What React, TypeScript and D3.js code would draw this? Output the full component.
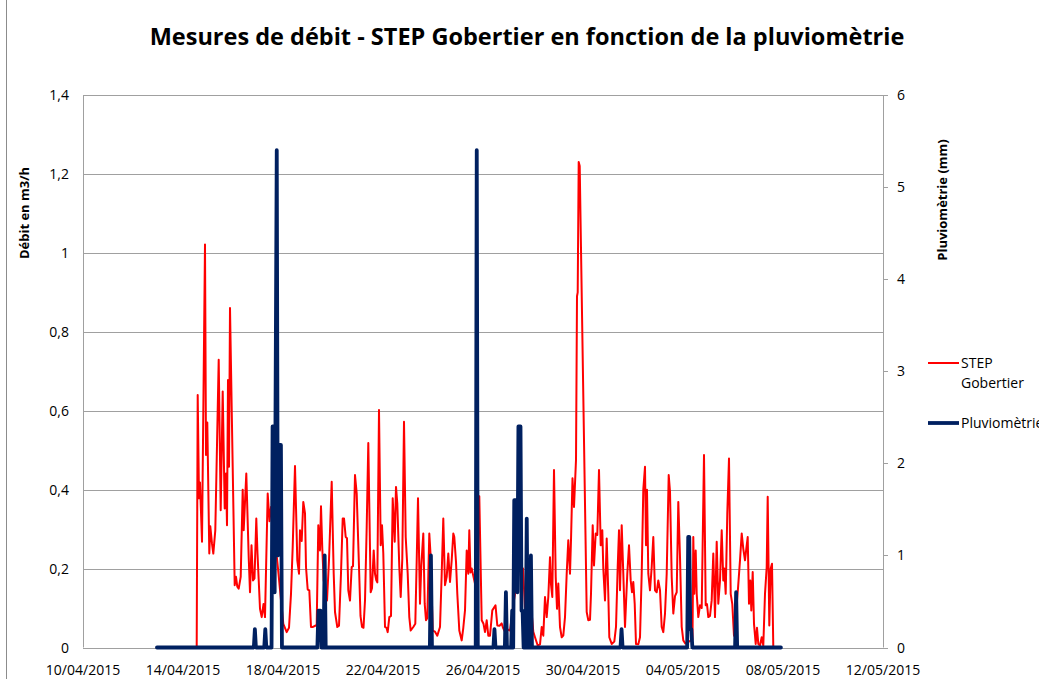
import React from "react";
import * as d3 from "d3";

// ---- DATA ----
const START = Date.UTC(2015, 3, 10); // 10/04/2015 00:00

// Débit STEP Gobertier (m3/h): [days since 10/04/2015, value]
const flowPoints: [number, number][] = [
  [4.548,0],[4.588,0.64],[4.64,0.378],[4.68,0.418],[4.76,0.268],[4.88,1.021],[4.92,0.488],[4.972,0.57],[5.052,0.238],[5.092,0.307],[5.16,0.263],[5.212,0.238],[5.292,0.297],[5.428,0.729],[5.508,0.348],[5.588,0.649],[5.668,0.352],[5.72,0.441],[5.76,0.31],[5.8,0.678],[5.84,0.458],[5.88,0.86],[6.068,0.158],[6.12,0.179],[6.172,0.154],[6.228,0.149],[6.308,0.179],[6.388,0.4],[6.428,0.297],[6.532,0.441],[6.628,0.229],[6.68,0.14],[6.74,0.259],[6.8,0.17],[6.86,0.175],[6.932,0.327],[6.98,0.238],[7.08,0.098],[7.148,0.077],[7.22,0.11],[7.28,0.077],[7.388,0.39],[7.46,0.32],[7.52,0.356],[7.64,0.3],[7.8,0.2],[7.92,0.12],[8.012,0.06],[8.148,0.039],[8.24,0.05],[8.32,0.136],[8.388,0.255],[8.48,0.46],[8.572,0.221],[8.64,0.187],[8.68,0.297],[8.748,0.27],[8.812,0.369],[8.88,0.34],[8.92,0.204],[8.988,0.147],[9.052,0.145],[9.12,0.052],[9.2,0.052],[9.348,0.057],[9.412,0.31],[9.48,0.246],[9.52,0.358],[9.572,0.25],[9.628,0.17],[9.76,0.119],[9.84,0.221],[9.948,0.42],[10.028,0.187],[10.08,0.09],[10.172,0.052],[10.24,0.055],[10.32,0.188],[10.388,0.327],[10.44,0.327],[10.508,0.28],[10.56,0.277],[10.612,0.145],[10.68,0.119],[10.748,0.204],[10.8,0.206],[10.88,0.437],[10.948,0.39],[11.04,0.204],[11.1,0.08],[11.16,0.052],[11.22,0.05],[11.28,0.119],[11.348,0.306],[11.412,0.518],[11.508,0.14],[11.56,0.15],[11.628,0.246],[11.68,0.187],[11.732,0.17],[11.772,0.165],[11.84,0.602],[11.908,0.259],[11.96,0.31],[12.012,0.238],[12.08,0.052],[12.14,0.05],[12.188,0.039],[12.252,0.077],[12.32,0.08],[12.388,0.378],[12.468,0.268],[12.52,0.407],[12.572,0.365],[12.652,0.204],[12.708,0.128],[12.772,0.225],[12.84,0.572],[12.908,0.28],[12.988,0.187],[13.052,0.077],[13.108,0.043],[13.212,0.052],[13.292,0.06],[13.348,0.221],[13.4,0.378],[13.48,0.111],[13.532,0.208],[13.612,0.289],[13.668,0.111],[13.72,0.069],[13.772,0.075],[13.852,0.289],[13.908,0.229],[13.988,0.043],[14.08,0.04],[14.172,0.03],[14.28,0.052],[14.348,0.187],[14.412,0.327],[14.48,0.158],[14.548,0.179],[14.612,0.238],[14.68,0.166],[14.748,0.221],[14.812,0.289],[14.852,0.28],[14.92,0.217],[14.972,0.136],[15.052,0.043],[15.148,0.018],[15.212,0.05],[15.28,0.094],[15.348,0.246],[15.412,0.187],[15.452,0.297],[15.5,0.19],[15.548,0.2],[15.62,0.179],[15.72,0.15],[15.852,0.383],[15.948,0.069],[16.02,0.06],[16.08,0.039],[16.148,0.069],[16.212,0.03],[16.28,0.03],[16.372,0.094],[16.5,0.107],[16.572,0.056],[16.66,0.055],[16.748,0.061],[16.8,0.05],[16.88,0.04],[17.0,0.045],[17.08,0.043],[17.148,0.077],[17.24,0.12],[17.372,0.17],[17.412,0.183],[17.48,0.28],[17.54,0.18],[17.6,0.2],[17.68,0.1],[17.76,0.08],[17.84,0.04],[17.948,0.086],[18.012,0.04],[18.08,0.026],[18.188,0.005],[18.28,0.008],[18.348,0.052],[18.412,0.03],[18.48,0.128],[18.548,0.077],[18.612,0.128],[18.68,0.229],[18.72,0.16],[18.772,0.128],[18.84,0.45],[18.908,0.179],[18.96,0.098],[19.012,0.162],[19.08,0.052],[19.148,0.026],[19.212,0.03],[19.28,0.077],[19.348,0.187],[19.412,0.272],[19.48,0.187],[19.52,0.272],[19.58,0.429],[19.64,0.356],[19.72,0.475],[19.76,0.89],[19.788,0.9],[19.828,1.23],[19.868,1.22],[20.148,0.09],[20.212,0.069],[20.28,0.07],[20.32,0.136],[20.388,0.31],[20.44,0.208],[20.508,0.289],[20.572,0.285],[20.64,0.45],[20.708,0.259],[20.772,0.297],[20.812,0.2],[20.88,0.119],[20.948,0.276],[21.012,0.136],[21.052,0.026],[21.148,0.009],[21.252,0.015],[21.32,0.052],[21.388,0.204],[21.44,0.297],[21.48,0.145],[21.548,0.31],[21.612,0.187],[21.68,0.052],[21.72,0.111],[21.772,0.187],[21.84,0.259],[21.908,0.17],[21.96,0.14],[22.012,0.166],[22.068,0.111],[22.12,0.009],[22.212,0.008],[22.28,0.026],[22.348,0.187],[22.412,0.4],[22.48,0.458],[22.52,0.259],[22.56,0.4],[22.612,0.187],[22.68,0.145],[22.748,0.204],[22.812,0.28],[22.88,0.145],[22.948,0.14],[23.012,0.17],[23.08,0.145],[23.148,0.052],[23.212,0.039],[23.28,0.086],[23.348,0.187],[23.428,0.437],[23.48,0.395],[23.548,0.179],[23.612,0.086],[23.68,0.13],[23.748,0.14],[23.812,0.369],[23.88,0.229],[23.948,0.052],[24.012,0.018],[24.092,0.01],[24.38,0.02],[24.412,0.28],[24.452,0.136],[24.508,0.246],[24.548,0.136],[24.612,0.077],[24.68,0.107],[24.748,0.1],[24.84,0.488],[24.908,0.107],[24.96,0.11],[25.012,0.077],[25.08,0.08],[25.148,0.12],[25.212,0.238],[25.28,0.077],[25.348,0.268],[25.412,0.111],[25.48,0.17],[25.548,0.297],[25.612,0.17],[25.652,0.2],[25.708,0.136],[25.772,0.34],[25.84,0.479],[25.908,0.136],[25.972,0.11],[26.04,0.03],[26.2,0.15],[26.28,0.221],[26.348,0.289],[26.412,0.25],[26.48,0.221],[26.532,0.25],[26.588,0.28],[26.64,0.111],[26.692,0.17],[26.732,0.094],[26.788,0.191],[26.84,0.06],[26.908,0.009],[26.96,0.05],[27.012,0.009],[27.08,0.005],[27.148,0.026],[27.212,0.005],[27.28,0.136],[27.348,0.204],[27.388,0.382],[27.452,0.056],[27.508,0.2],[27.56,0.212],[27.612,0]
];

// Pluviométrie (mm): [hours since 10/04/2015 00:00, value]
const rainPoints: [number, number][] = [
  [71,0],
  [164,0],[165,0.2],[166,0],
  [174,0],[175,0.2],[176,0],
  [181,0],[182,2.4],[183,2.4],[184,0.6],[186,5.4],[187,1.0],[188,2.2],[190,2.2],[191,0],
  [225,0],[226,0.4],[228,0.4],[229,0],
  [231,0],[232,1.0],[233,0],
  [333,0],[334,1.0],[335,0],
  [377,0],[378,5.4],[379,0],
  [394,0],[395,0.2],[396,0],
  [405,0],[406,0.6],[407,0],
  [411,0],[412,0.4],[413,0],[414,1.6],[416,1.6],[417,0.6],[418,2.4],[420,2.4],[421,0.4],[422,0.4],[423,0],
  [425,0],[426,1.4],[427,0],[429,0],[430,1.0],[431,0],
  [516,0],[517,0.2],[518,0],
  [580,0],[581,1.2],[582,1.2],[583,0.2],[584,0.2],[585,0],
  [626,0],[627,0.6],[628,0],
  [670,0],
];

const xTickLabels = ["10/04/2015","14/04/2015","18/04/2015","22/04/2015","26/04/2015","30/04/2015","04/05/2015","08/05/2015","12/05/2015"];
const leftTicks = [0, 0.2, 0.4, 0.6, 0.8, 1, 1.2, 1.4];
const rightTicks = [0, 1, 2, 3, 4, 5, 6];

const title = "Mesures de débit - STEP Gobertier en fonction de la pluviomètrie";
const leftTitle = "Débit en m3/h";
const rightTitle = "Pluviomètrie (mm)";
const seriesNames = ["STEP", "Gobertier"];
const rainName = "Pluviomètrie";

// ---- CHART ----
const W = 1039, H = 679;
const M = { left: 83, right: 883, top: 95, bottom: 647.5 };
const FONT = "'Open Sans', 'Liberation Sans', sans-serif";
const RED = "#ff0000";
const BLUE = "#002060";
const GRID = "#a0a0a0";

const parse = d3.utcParse("%d/%m/%Y");
const xTicks = xTickLabels.map((s) => parse(s) as Date);

const x = d3.scaleUtc().domain([xTicks[0], xTicks[xTicks.length - 1]]).range([M.left, M.right]);
const yL = d3.scaleLinear().domain([0, 1.4]).range([M.bottom, M.top]);
const yR = d3.scaleLinear().domain([0, 6]).range([M.bottom, M.top]);

const fr = d3.formatLocale({ decimal: ",", thousands: " ", grouping: [3], currency: ["", "€"] });
const fmtL = fr.format("~g");

export default function App() {
  const flowLine = d3
    .line<[number, number]>()
    .x((d) => x(new Date(START + d[0] * 86400000)))
    .y((d) => yL(d[1]));
  const rainLine = d3
    .line<[number, number]>()
    .x((d) => x(new Date(START + d[0] * 3600000)))
    .y((d) => yR(d[1]));

  return (
    <div style={{ position: "fixed", left: 0, top: 0, width: W, height: H, background: "#fff" }}>
      <svg width={W} height={H} style={{ display: "block", fontFamily: FONT }}>
        <rect x={0} y={0} width={W} height={H} fill="#fff" />
        <line x1={6.5} x2={6.5} y1={0} y2={H} stroke="#8c8c8c" strokeWidth={1} />

        <text x={527} y={45} textAnchor="middle" fontSize={23.5} fontWeight="bold" fill="#000">
          {title}
        </text>

        {leftTicks.map((t) => (
          <line key={"g" + t} x1={M.left} x2={M.right} y1={Math.round(yL(t)) + 0.5} y2={Math.round(yL(t)) + 0.5} stroke={GRID} strokeWidth={1} />
        ))}
        <line x1={M.left + 0.5} x2={M.left + 0.5} y1={M.top} y2={M.bottom} stroke={GRID} />
        <line x1={M.right + 0.5} x2={M.right + 0.5} y1={M.top} y2={M.bottom} stroke={GRID} />
        {rightTicks.map((t) => (
          <line key={"rt" + t} x1={M.right} x2={M.right + 5} y1={Math.round(yR(t)) + 0.5} y2={Math.round(yR(t)) + 0.5} stroke={GRID} />
        ))}

        {leftTicks.map((t) => (
          <text key={"lt" + t} x={69} y={yL(t) + 5} textAnchor="end" fontSize={14} fill="#000">
            {fmtL(t)}
          </text>
        ))}
        {rightTicks.map((t) => (
          <text key={"rl" + t} x={897} y={yR(t) + 5} textAnchor="start" fontSize={14} fill="#000">
            {String(t)}
          </text>
        ))}
        {xTicks.map((d, i) => (
          <text key={"xt" + i} x={x(d)} y={675} textAnchor="middle" fontSize={14} fill="#000">
            {xTickLabels[i]}
          </text>
        ))}

        <text transform={`translate(29,213) rotate(-90)`} textAnchor="middle" fontSize={13} fontWeight="bold" fill="#000">
          {leftTitle}
        </text>
        <text transform={`translate(947,200) rotate(-90)`} textAnchor="middle" fontSize={13} fontWeight="bold" fill="#000">
          {rightTitle}
        </text>

        <path d={flowLine(flowPoints) || ""} fill="none" stroke={RED} strokeWidth={2} strokeLinejoin="round" />
        <path d={rainLine(rainPoints) || ""} fill="none" stroke={BLUE} strokeWidth={3.8} strokeLinejoin="round" strokeLinecap="round" />

        <line x1={928} x2={959} y1={363} y2={363} stroke={RED} strokeWidth={2} />
        <text x={961} y={368} fontSize={14} fill="#000">{seriesNames[0]}</text>
        <text x={961} y={388} fontSize={14} fill="#000">{seriesNames[1]}</text>
        <line x1={928} x2={959} y1={423} y2={423} stroke={BLUE} strokeWidth={3.8} />
        <text x={961} y={428} fontSize={14} fill="#000">{rainName}</text>
      </svg>
    </div>
  );
}
